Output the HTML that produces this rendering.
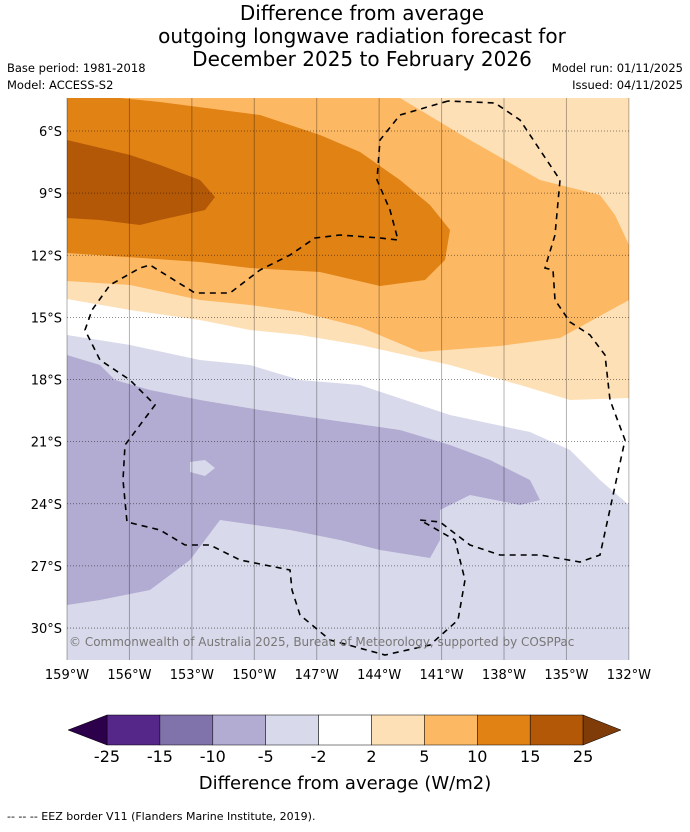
<!DOCTYPE html>
<html><head><meta charset="utf-8"><style>
body{margin:0;background:#fff;font-family:"Liberation Sans","DejaVu Sans",sans-serif}
svg text{font-family:"DejaVu Sans","Liberation Sans",sans-serif}
</style></head><body>
<svg id="c" width="690" height="827" xmlns="http://www.w3.org/2000/svg">
<text x="362" y="20" text-anchor="middle" font-size="20">Difference from average</text>
<text x="362" y="43" text-anchor="middle" font-size="20">outgoing longwave radiation forecast for</text>
<text x="362" y="66" text-anchor="middle" font-size="20">December 2025 to February 2026</text>
<text x="7" y="72" font-size="11.5">Base period: 1981-2018</text>
<text x="7" y="89" font-size="11.5">Model: ACCESS-S2</text>
<text x="683" y="72" font-size="11.5" text-anchor="end">Model run: 01/11/2025</text>
<text x="683" y="89" font-size="11.5" text-anchor="end">Issued: 04/11/2025</text>
<defs><clipPath id="mc"><rect x="67" y="98" width="562" height="562"/></clipPath></defs>
<g id="map" clip-path="url(#mc)"></g>
<g id="axes"></g>
<text x="69" y="646" font-size="12" fill="#777">© Commonwealth of Australia 2025, Bureau of Meteorology, supported by COSPPac</text>
<g id="cbar"></g>
<text x="345" y="789" text-anchor="middle" font-size="18">Difference from average (W/m2)</text>
<text x="7" y="820" font-size="11">--  --  -- EEZ border V11 (Flanders Marine Institute, 2019).</text>
</svg>
<script>
const NS="http://www.w3.org/2000/svg";
const lonTicks=[-159,-156,-153,-150,-147,-144,-141,-138,-135,-132];
const latTicks=[-6,-9,-12,-15,-18,-21,-24,-27,-30];
const cbLevels=[-25,-15,-10,-5,-2,2,5,10,15,25];
const cbColors=["#542788","#8073ac","#b2abd2","#d8daeb","#ffffff","#fee0b6","#fdb863","#e08214","#b35806"];
const P=(a)=>a.map(([x,y])=>[-159+(x-67)/20.81,-(6+(y-131)/20.71)]);
const fill_2to5=P([[40,60],[700,60],[700,398],[629,398],[570,400],[520,385],[450,365],[360,345],[300,335],[250,330],[200,320],[130,310],[67,299],[40,299]]);
const fill_5to10=P([[40,60],[400,60],[400,98],[470,140],[540,180],[600,195],[615,215],[629,245],[700,245],[700,300],[629,300],[560,338],[500,346],[420,352],[360,327],[300,312],[250,305],[200,300],[130,285],[67,281],[40,281]]);
const fill_10to15=P([[40,60],[120,60],[120,98],[160,102],[260,115],[320,135],[360,152],[400,180],[430,205],[450,230],[445,260],[425,280],[380,286],[320,272],[250,268],[200,262],[67,253],[40,253]]);
const fill_15to25=P([[40,140],[67,140],[130,155],[160,165],[200,180],[215,197],[205,210],[160,220],[140,225],[100,220],[67,218],[40,218]]);
const fill_m2to_m5=P([[40,335],[67,335],[130,345],[200,360],[250,365],[300,380],[360,385],[450,415],[530,432],[570,450],[600,480],[629,505],[700,505],[700,700],[40,700]]);
const fill_m5to_m10=P([[40,355],[67,355],[100,365],[115,380],[150,390],[200,400],[260,410],[330,420],[400,430],[450,445],[490,460],[530,480],[540,500],[520,505],[470,495],[440,510],[440,540],[430,558],[380,550],[340,540],[290,530],[220,520],[190,560],[150,590],[100,600],[67,605],[40,605]]);
const hole=P([[190,462],[205,460],[215,468],[205,476],[190,472]]);
const eez=P([[448,101],[400,115],[380,140],[377,180],[390,210],[398,240],[380,238],[340,235],[315,238],[290,255],[260,270],[230,293],[195,293],[150,265],[140,268],[110,285],[92,310],[85,330],[90,340],[100,360],[130,380],[155,405],[125,445],[123,480],[127,522],[160,530],[185,545],[210,545],[240,560],[290,570],[292,590],[300,615],[330,640],[385,655],[430,645],[458,620],[465,580],[455,540],[420,520],[440,522],[470,545],[500,555],[540,555],[580,562],[600,555],[612,500],[625,440],[610,400],[605,355],[590,335],[570,322],[555,300],[553,270],[545,268],[555,235],[560,180],[540,150],[520,120],[495,103],[448,101]]);
const X=lon=>67+(lon+159)*20.81, Y=lat=>131+(-lat-6)*20.71;
const map=document.getElementById('map');
function poly(pts,color,name,closed=true){
  const p=document.createElementNS(NS,closed?'polygon':'polyline');
  p.setAttribute('points',pts.map(([a,b])=>X(a).toFixed(1)+','+Y(b).toFixed(1)).join(' '));
  
  
  if(closed){p.setAttribute('fill',color);}else{p.setAttribute('fill','none');p.setAttribute('stroke','#000');p.setAttribute('stroke-width','1.6');p.setAttribute('stroke-dasharray','6,5');}
  map.appendChild(p);
}
const bg=document.createElementNS(NS,'rect');
bg.setAttribute('x',67);bg.setAttribute('y',98);bg.setAttribute('width',562);bg.setAttribute('height',562);bg.setAttribute('fill','#fff');


map.appendChild(bg);
poly(fill_2to5,"#fee0b6","contour-2-to-5");
poly(fill_5to10,"#fdb863","contour-5-to-10");
poly(fill_10to15,"#e08214","contour-10-to-15");
poly(fill_15to25,"#b35806","contour-15-to-25");
poly(fill_m2to_m5,"#d8daeb","contour-minus2-to-minus5");
poly(fill_m5to_m10,"#b2abd2","contour-minus5-to-minus10");
poly(hole,"#d8daeb","contour-hole");
const ax=document.getElementById('axes');
lonTicks.forEach(l=>{
  const ln=document.createElementNS(NS,'line');
  ln.setAttribute('x1',X(l));ln.setAttribute('x2',X(l));ln.setAttribute('y1',98);ln.setAttribute('y2',660);
  ln.setAttribute('stroke','#000');ln.setAttribute('stroke-opacity','0.3');ln.setAttribute('stroke-width','1');
  
  
  ax.appendChild(ln);
  const t=document.createElementNS(NS,'text');
  t.setAttribute('x',X(l));t.setAttribute('y',679);t.setAttribute('text-anchor','middle');t.setAttribute('font-size','13');
  t.textContent=(-l)+'°W';
  
  
  ax.appendChild(t);
});
latTicks.forEach(l=>{
  const ln=document.createElementNS(NS,'line');
  ln.setAttribute('x1',67);ln.setAttribute('x2',629);ln.setAttribute('y1',Y(l));ln.setAttribute('y2',Y(l));
  ln.setAttribute('stroke','#000');ln.setAttribute('stroke-opacity','0.6');ln.setAttribute('stroke-width','0.8');ln.setAttribute('stroke-dasharray','1,2');
  
  
  ax.appendChild(ln);
  const t=document.createElementNS(NS,'text');
  t.setAttribute('x',62);t.setAttribute('y',Y(l)+5);t.setAttribute('text-anchor','end');t.setAttribute('font-size','13');
  t.textContent=(-l)+'°S';
  
  
  ax.appendChild(t);
});
poly(eez,null,"eez-border",false);
const cb=document.getElementById('cbar');
const cx0=107,cw=52.9,cy=715,ch=30;
cbColors.forEach((c,i)=>{
  const r=document.createElementNS(NS,'rect');
  r.setAttribute('x',cx0+i*cw);r.setAttribute('y',cy);r.setAttribute('width',cw);r.setAttribute('height',ch);
  r.setAttribute('fill',c);r.setAttribute('stroke','#000');r.setAttribute('stroke-width','0.5');
  
  
  cb.appendChild(r);
});
const xe=cx0+cbColors.length*cw;
[[`${cx0},${cy} ${cx0},${cy+ch} 68,${cy+ch/2}`,"#2d004b","colorbar-min-arrow"],[`${xe},${cy} ${xe},${cy+ch} 621,${cy+ch/2}`,"#7f3b08","colorbar-max-arrow"]].forEach(([pts,c,n])=>{
  const p=document.createElementNS(NS,'polygon');
  p.setAttribute('points',pts);p.setAttribute('fill',c);p.setAttribute('stroke','#000');p.setAttribute('stroke-width','0.5');
  
  
  cb.appendChild(p);
});
cbLevels.forEach((v,i)=>{
  const t=document.createElementNS(NS,'text');
  t.setAttribute('x',cx0+i*cw);t.setAttribute('y',762);t.setAttribute('text-anchor','middle');t.setAttribute('font-size','16');
  t.textContent=v;
  
  
  cb.appendChild(t);
});
</script>
</body></html>
